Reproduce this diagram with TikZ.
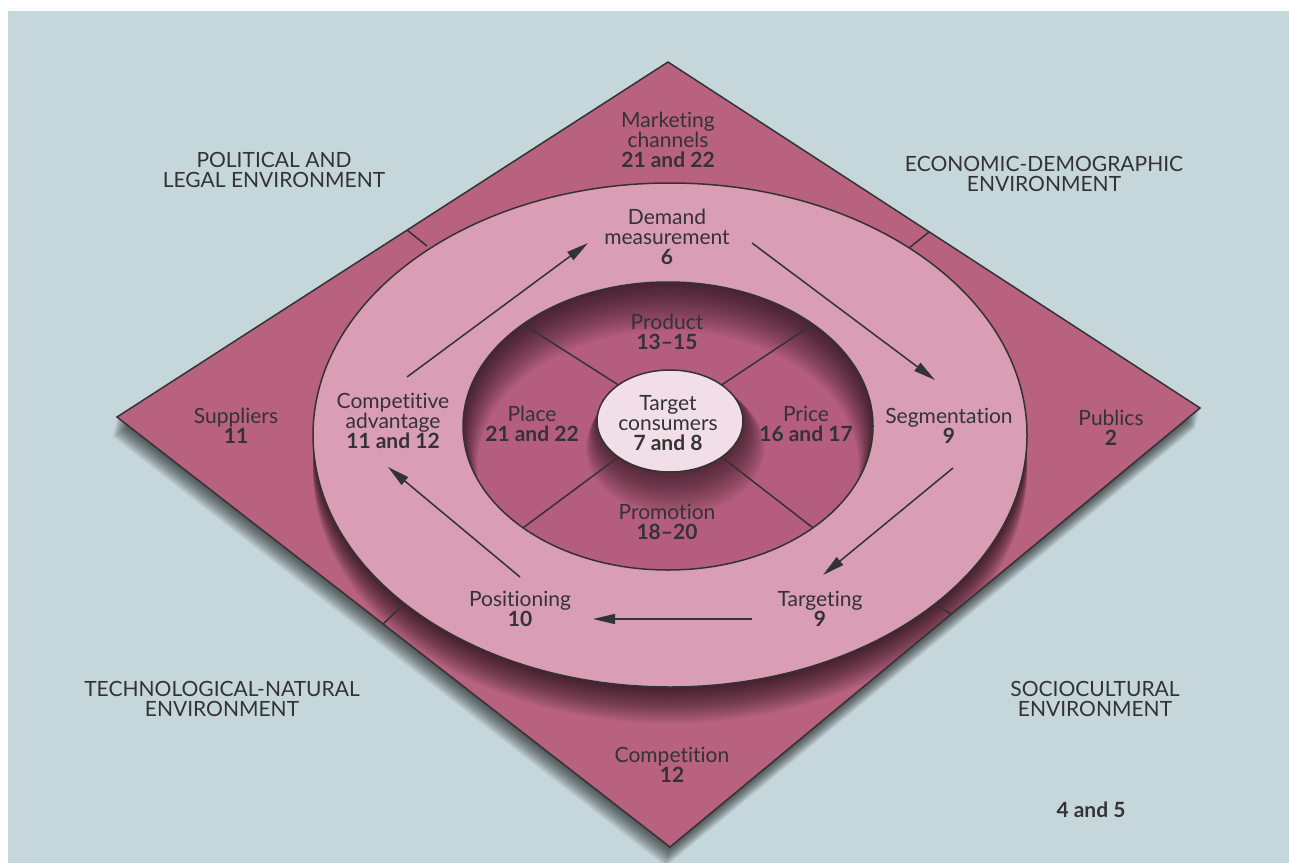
\documentclass[tikz,border=0pt]{standalone}
\usepackage{fontspec}
\setmainfont{Lato}[Ligatures={NoCommon}]
\usetikzlibrary{arrows.meta,calc}

\definecolor{bgblue}{HTML}{C6D7DC}
\definecolor{rose}{HTML}{B8627F}
\definecolor{ringpink}{HTML}{D99DB4}
\definecolor{mixrose}{HTML}{B45D7C}
\definecolor{hubpink}{HTML}{F2DEE6}
\definecolor{ink}{HTML}{333333}

\begin{document}
\begin{tikzpicture}[x=1pt,y=-1pt,
    move/.style={-{Triangle[length=22pt,width=10pt]},line width=1.5pt,draw=ink},
    rim/.style={draw=ink,line width=1.5pt},
    lbl/.style={align=center,text=ink,inner sep=1pt,font=\fontsize{21}{20}\selectfont},
    num/.style={font=\bfseries}]

    \useasboundingbox (0,0) rectangle (1289,862);
    \fill[white] (0,0) rectangle (1289,862);
    \fill[bgblue] (8,11) rectangle (1290,863);

    \coordinate (dl) at (117,417);
    \coordinate (dt) at (668,62);
    \coordinate (dr) at (1200,408);
    \coordinate (db) at (670,847);
    \coordinate (ringc) at (670,435);
    \coordinate (mixc) at (668,426);
    \coordinate (hubc) at (670,421);

    \foreach \k in {1,...,22}
      \fill[black,opacity=0.035] ($(dl)+(-0.2*\k,0.9*\k)$) -- ($(dt)+(-0.2*\k,0.9*\k)$) -- ($(dr)+(-0.2*\k,0.9*\k)$) -- ($(db)+(-0.2*\k,0.9*\k)$) -- cycle;
    \fill[rose] (dl) -- (dt) -- (dr) -- (db) -- cycle;

    \begin{scope}
      \clip (dl) -- (dt) -- (dr) -- (db) -- cycle;
      \foreach \k in {1,...,26}
        \fill[black,opacity=0.03] ($(ringc)+(0,1.4*\k)$) ellipse [x radius=357pt, y radius=252pt];
    \end{scope}
    \draw[rim,line join=miter] (dl) -- (dt) -- (dr) -- (db) -- cycle;

    \fill[ringpink] (ringc) ellipse [x radius=357pt, y radius=252pt];
    \draw[rim] (ringc) ellipse [x radius=357pt, y radius=252pt];

    \draw[rim] (407,230) -- (427,246);
    \draw[rim] (929,232) -- (909,248);
    \draw[rim] (383,624) -- (400,608);
    \draw[rim] (951,614) -- (935,604);

    \fill[mixrose] (mixc) ellipse [x radius=205pt, y radius=144pt];
    \begin{scope}
      \clip (mixc) ellipse [x radius=205pt, y radius=144pt];
      \foreach \k in {1,...,18}
        \fill[black,opacity=0.045,even odd rule] (400,200) rectangle (950,650)
          ($(mixc)+(0,2.2*\k)$) ellipse [x radius={205-0.8*\k}, y radius={144-0.5*\k}];
      \foreach \k in {1,...,18}
        \fill[black,opacity=0.035] ($(hubc)+(0.3*\k,1.5*\k)$) ellipse [x radius={73+0.9*\k}, y radius={51+0.9*\k}];
    \end{scope}
    \foreach \a in {45,135,225,315}
      \draw[rim] ($(hubc)+({73*cos(\a)},{-51*sin(\a)})$) -- ($(mixc)+({205*cos(\a)},{-144*sin(\a)})$);
    \draw[rim] (mixc) ellipse [x radius=205pt, y radius=144pt];

    \fill[hubpink] (hubc) ellipse [x radius=73pt, y radius=51pt];
    \draw[rim] (hubc) ellipse [x radius=73pt, y radius=51pt];

    \node[lbl] (mktch) at (668,140) {Marketing\\channels\\{\bfseries 21 and 22}};
    \node[lbl] (demand) at (667,237) {Demand\\measurement\\{\bfseries 6}};
    \node[lbl] (product) at (667,332) {Product\\{\bfseries 13--15}};
    \node[lbl] (place) at (532,424) {Place\\{\bfseries 21 and 22}};
    \node[lbl] (target) at (668,423) {Target\\consumers\\{\bfseries 7 and 8}};
    \node[lbl] (price) at (806,424) {Price\\{\bfseries 16 and 17}};
    \node[lbl] (promo) at (667,522) {Promotion\\{\bfseries 18--20}};
    \node[lbl] (compadv) at (393,421) {Competitive\\advantage\\{\bfseries 11 and 12}};
    \node[lbl] (suppl) at (236,426) {Suppliers\\{\bfseries 11}};
    \node[lbl] (segm) at (949,426) {Segmentation\\{\bfseries 9}};
    \node[lbl] (publics) at (1111,428) {Publics\\{\bfseries 2}};
    \node[lbl] (posit) at (520,609) {Positioning\\{\bfseries 10}};
    \node[lbl] (targ) at (820,609) {Targeting\\{\bfseries 9}};
    \node[lbl] (compet) at (672,765) {Competition\\{\bfseries 12}};
    \node[lbl] (polit) at (274,170) {POLITICAL AND\\LEGAL ENVIRONMENT};
    \node[lbl] (econ) at (1044,174) {ECONOMIC-DEMOGRAPHIC\\ENVIRONMENT};
    \node[lbl] (techno) at (222,699) {TECHNOLOGICAL-NATURAL\\ENVIRONMENT};
    \node[lbl] (socio) at (1095,699) {SOCIOCULTURAL\\ENVIRONMENT};
    \node[lbl] (chap) at (1091,810) {\bfseries 4 and 5};

    \coordinate (cadv-out) at (407,377);
    \coordinate (dem-in) at (588,243);
    \coordinate (dem-out) at (752,243);
    \coordinate (seg-in) at (935,380);
    \coordinate (seg-out) at (953,468);
    \coordinate (targ-in) at (823,575);
    \coordinate (targ-out) at (752,619);
    \coordinate (pos-in) at (593,619);
    \coordinate (pos-out) at (520,577);
    \coordinate (cadv-in) at (388,467);

    \path[move] (cadv-out) -- (dem-in);
    \path[move] (dem-out) -- (seg-in);
    \path[move] (seg-out) -- (targ-in);
    \path[move] (targ-out) -- (pos-in);
    \path[move] (pos-out) -- (cadv-in);
  \end{tikzpicture}
\end{document}
